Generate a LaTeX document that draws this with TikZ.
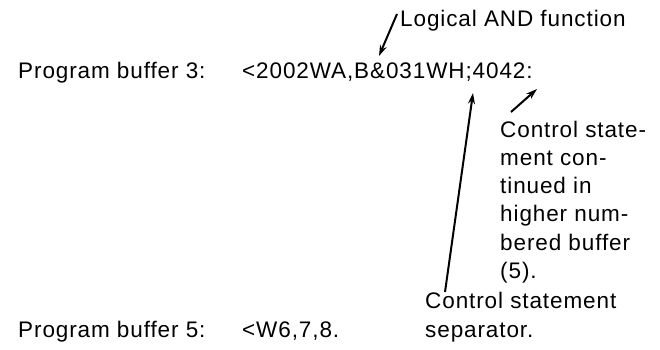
\documentclass[tikz,border=0pt]{standalone}
\usepackage{fontspec}
\setmainfont{Liberation Sans}[LetterSpace=4]
\usetikzlibrary{arrows.meta}
\tikzset{
  txt/.style={anchor=base west, inner sep=0pt, font=\fontsize{22.5}{28.3}\selectfont, align=left},
  ptr/.style={line width=2pt, -{Stealth[length=11pt,width=7pt]}}
}
\begin{document}
\begin{tikzpicture}[x=1pt,y=-1pt]
\useasboundingbox (0,0) rectangle (660,349);
\node[txt] (and) at (400,26) {Logical AND function};
\node[txt] (pb3) at (18,78) {Program buffer 3:};
\node[txt] (code3) at (242,78) {<2002WA,B\&031WH;4042:};
\node[txt] (cont) at (500,278.5) {Control state-\\ment con-\\tinued in\\higher num-\\bered buffer\\(5).};
\node[txt] (sep) at (425,337) {Control statement\\separator.};
\node[txt] (pb5) at (18,337) {Program buffer 5:};
\node[txt] (code5) at (242,337) {<W6,7,8.};
\coordinate (a1s) at (397,14);
\coordinate (a1e) at (379,56);
\coordinate (a2s) at (445,292);
\coordinate (a2e) at (473,93);
\coordinate (a3s) at (511,112);
\coordinate (a3e) at (537,89);
\draw[ptr] (a1s) -- (a1e);
\draw[ptr] (a2s) -- (a2e);
\draw[ptr] (a3s) -- (a3e);
\end{tikzpicture}
\end{document}
